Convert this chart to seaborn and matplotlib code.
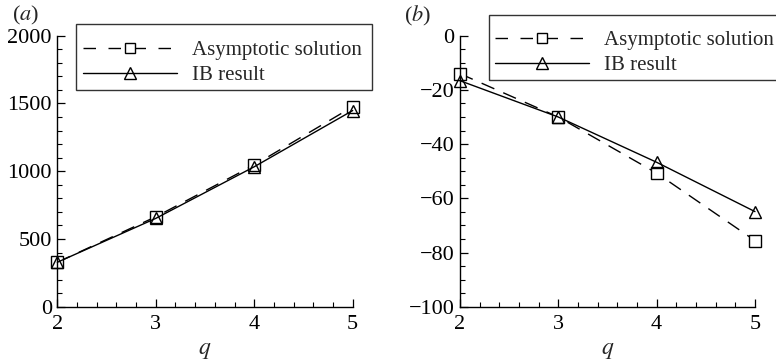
import numpy as np
import pandas as pd
import seaborn as sns
import matplotlib
matplotlib.use("Agg")
import matplotlib.pyplot as plt
from matplotlib.ticker import MultipleLocator
from matplotlib.lines import Line2D
from matplotlib.patches import Rectangle

q = [2, 3, 4, 5]
a_asym = [328, 664, 1046, 1476]
a_ib = [328, 652, 1033, 1448]
b_asym = [-14.0, -30.0, -50.7, -75.6]
b_ib = [-16.6, -30.0, -46.7, -64.9]
labels = ["Asymptotic solution", "IB result"]

sns.set_theme(style="white")
plt.rcParams["font.family"] = ["Liberation Serif", "DejaVu Serif"]
plt.rcParams["mathtext.fontset"] = "stix"

W, H = 776, 361
fig = plt.figure(figsize=(7.76, 3.61), dpi=100)
axa = fig.add_axes([0.0739, 0.1504, 0.3806, 0.7506])
axb = fig.add_axes([0.5928, 0.1504, 0.3801, 0.7506])

def draw(ax, asym, ib):
    sns.lineplot(x=q, y=asym, ax=ax, color="black", lw=1.0, linestyle="--",
                 marker="s", markersize=8, markerfacecolor="white",
                 markeredgecolor="black", markeredgewidth=1.0)
    ax.lines[-1].set_dashes((10, 7))
    ax.lines[-1].set_clip_on(False)
    sns.lineplot(x=q, y=ib, ax=ax, color="black", lw=1.0, linestyle="-",
                 marker="^", markersize=9, markerfacecolor="none",
                 markeredgecolor="black", markeredgewidth=1.0)
    ax.lines[-1].set_clip_on(False)
    for s in ["top", "right"]:
        ax.spines[s].set_visible(False)
    for s in ["left", "bottom"]:
        ax.spines[s].set_color("black")
        ax.spines[s].set_linewidth(1.0)
    ax.set_xlim(2, 5)
    ax.xaxis.set_major_locator(MultipleLocator(1))
    ax.xaxis.set_minor_locator(MultipleLocator(0.2))
    ax.tick_params(which="both", direction="in", colors="black", labelsize=16,
                   left=True, bottom=True, top=False, right=False)
    ax.tick_params(which="major", length=6, width=0.9)
    ax.tick_params(which="minor", length=3.5, width=0.8)
    ax.tick_params(axis="x", pad=6)
    ax.tick_params(axis="y", pad=4)
    ax.set_xlabel("$q$", fontsize=17, labelpad=4)
    ax.set_facecolor("white")

draw(axa, a_asym, a_ib)
axa.set_ylim(0, 2000)
axa.yaxis.set_major_locator(MultipleLocator(500))
axa.yaxis.set_minor_locator(MultipleLocator(100))

draw(axb, b_asym, b_ib)
axb.set_ylim(-100, 0)
axb.yaxis.set_major_locator(MultipleLocator(20))
axb.yaxis.set_minor_locator(MultipleLocator(5))

handles = [
    Line2D([], [], color="black", lw=1.0, dashes=(9, 9), marker="s", markersize=7,
           markerfacecolor="white", markeredgecolor="black"),
    Line2D([], [], color="black", lw=1.0, linestyle="-", marker="^", markersize=8,
           markerfacecolor="none", markeredgecolor="black"),
]

# (handle start x px, rows mid y px, frame x0, y0, x1, y1 px)
legspec = [(83, 63, 76, 24, 372, 90), (495, 53, 489, 15, 800, 80)]
for hx, my, x0, y0, x1, y1 in legspec:
    leg = fig.legend(handles, labels, loc="center left",
                     bbox_to_anchor=(hx / W, 1 - my / H),
                     bbox_transform=fig.transFigure, borderaxespad=0, fontsize=15,
                     frameon=False, handlelength=4.5, numpoints=1, borderpad=0,
                     labelspacing=0.25, handletextpad=0.75)
    fig.patches.append(Rectangle((x0 / W, 1 - y1 / H), (x1 - x0) / W, (y1 - y0) / H,
                                 transform=fig.transFigure, fill=False,
                                 edgecolor="#333333", linewidth=1.0))

fig.text(0.015, 0.99, "($a$)", fontsize=16, va="top", ha="left")
fig.text(0.520, 0.99, "($b$)", fontsize=16, va="top", ha="left")

fig.savefig("out.png", dpi=100)
